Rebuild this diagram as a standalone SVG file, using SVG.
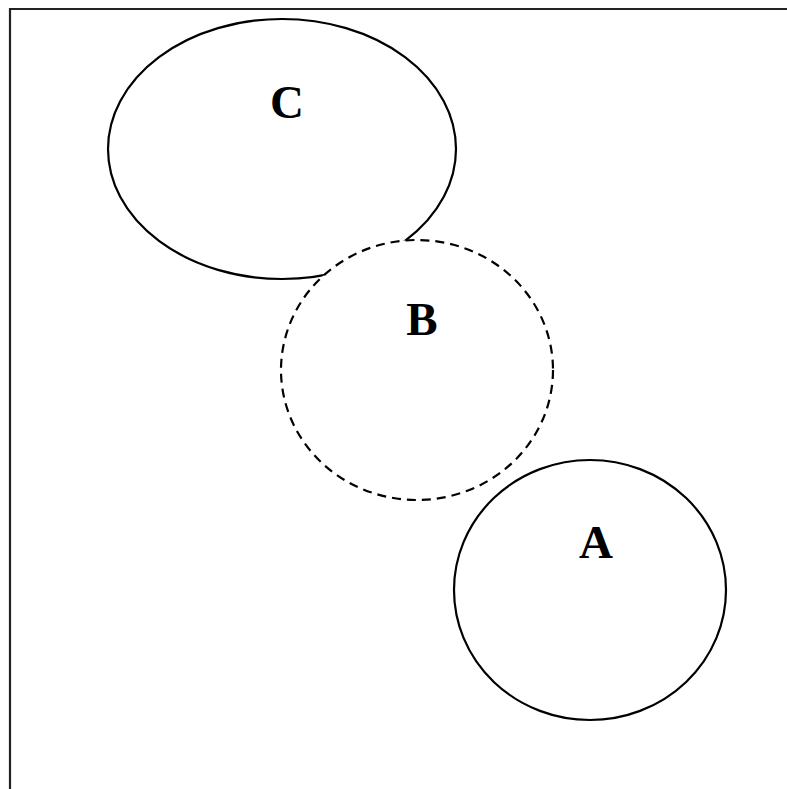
<svg xmlns="http://www.w3.org/2000/svg" width="787" height="789" viewBox="0 0 787 789">
<style>
.frame{stroke:#222;stroke-width:2.2;fill:none}
.shape{fill:none;stroke:#000;stroke-width:2.2}
.dash{stroke-dasharray:9 6;fill:#fff}
.lbl{font-family:"Liberation Serif","Times New Roman",serif;font-weight:bold;font-size:47px;fill:#000;text-anchor:middle}
</style>
<rect width="787" height="789" fill="#fff"/>
<path class="frame" d="M10,789 V9 H787"/>
<g id="node-C">
<ellipse class="shape" cx="282" cy="149" rx="174" ry="130"/>
<text class="lbl" x="287" y="118">C</text>
</g>
<g id="node-B">
<ellipse class="shape dash" cx="417" cy="370" rx="136" ry="130"/>
<text class="lbl" x="422" y="335">B</text>
</g>
<g id="node-A">
<ellipse class="shape" cx="590" cy="590" rx="136" ry="130"/>
<text class="lbl" x="596" y="558">A</text>
</g>
<g id="connectors"></g>
</svg>
